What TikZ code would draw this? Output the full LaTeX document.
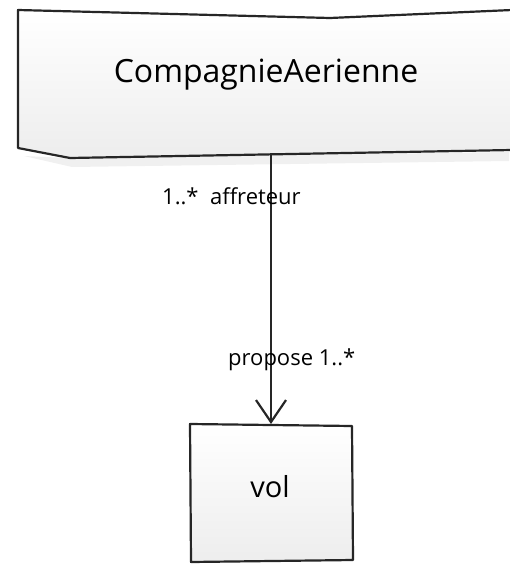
\documentclass[tikz,border=0pt]{standalone}
\usepackage{fontspec}
\setmainfont{Open Sans}
\usetikzlibrary{arrows.meta}
\begin{document}
\begin{tikzpicture}[x=1pt,y=-1pt,
  sketch/.style={draw=black!85, line width=2.2pt, line join=round, top color=white, bottom color=gray!14},
  lbl/.style={font=\fontsize{22}{26}\selectfont, inner sep=0pt},
  conn/.style={draw=black!85, line width=1.8pt, -{Straight Barb[length=22pt,width=30pt,line width=2.2pt]}}]
\useasboundingbox (0,0) rectangle (509,567);
% soft shadow under the upper class box
\fill[gray!12] (24,156) -- (72,167) -- (509,161) -- (509,152) -- (68,158) -- cycle;
% upper class box, running past the right edge
\draw[sketch] (18,10) -- (330,18) -- (512,10) -- (512,150) -- (70,158) -- (18,148) -- cycle;
\node[font=\fontsize{32}{36}\selectfont] (comp) at (266,75) {CompagnieAerienne};
\coordinate (compbot) at (271,153);
% lower class box
\draw[sketch] (190,424) -- (352,426) -- (353,560) -- (191,562) -- cycle;
\node[font=\fontsize{29}{33}\selectfont] (vol) at (270,487) {vol};
\coordinate (voltop) at (271,424);
% association
\draw[conn] (compbot) -- (voltop);
\node[lbl, anchor=west] (m1) at (162,196) {1..*\ \ affreteur};
\node[lbl, anchor=west] (m2) at (228,360) {propose 1..*};
\end{tikzpicture}
\end{document}
